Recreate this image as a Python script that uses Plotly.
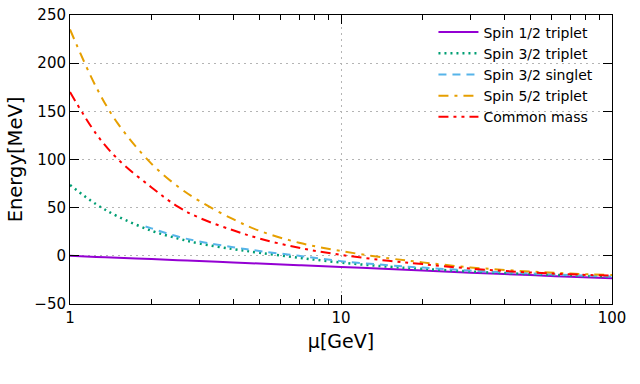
import plotly.graph_objects as go

# renormalisation scale mu [GeV]
mu = [1, 1.25, 1.5, 2, 2.5, 3, 4, 5, 7, 10, 15, 20, 30, 50, 70, 100]

spin12_triplet = [0, -1.1, -2.0, -3.4, -4.5, -5.4, -6.9, -8.0, -9.8, -11.6, -13.7, -15.2, -17.5, -20.0, -21.7, -23.2]
spin32_triplet = [73.5, 53.5, 41, 26, 18, 12.8, 7.0, 3.2, -2.0, -7.0, -11.3, -13.5, -16.3, -19.0, -20.4, -21.8]
spin52_triplet = [235, 175, 137.5, 95.5, 72, 57, 38, 26, 13.6, 5.0, -2.5, -6.8, -12.0, -16.3, -18.4, -20.0]
common_mass = [170, 126.5, 100.5, 71, 51, 39.5, 26.5, 18, 8.3, 1.0, -5.2, -8.6, -13.2, -17.3, -19.2, -20.6]

# the singlet curve only starts at about 1.9 GeV
mu_singlet = [1.9, 2, 2.5, 3, 4, 5, 7, 10, 15, 20, 30, 50, 70, 100]
spin32_singlet = [30.5, 28.5, 20, 14.8, 9.0, 5.0, 0.0, -5.5, -9.8, -12.2, -15.3, -18.3, -19.9, -21.4]

fig = go.Figure()
fig.add_trace(go.Scatter(x=mu, y=spin12_triplet, name="Spin 1/2 triplet", mode="lines",
                         line=dict(color="#9400D3", width=2, shape="spline")))
fig.add_trace(go.Scatter(x=mu, y=spin32_triplet, name="Spin 3/2 triplet", mode="lines",
                         line=dict(color="#009E73", width=2.5, dash="2px,4px", shape="spline")))
fig.add_trace(go.Scatter(x=mu_singlet, y=spin32_singlet, name="Spin 3/2 singlet", mode="lines",
                         line=dict(color="#56B4E9", width=2, dash="8px,6px", shape="spline")))
fig.add_trace(go.Scatter(x=mu, y=spin52_triplet, name="Spin 5/2 triplet", mode="lines",
                         line=dict(color="#E69F00", width=2, dash="10px,6px,3px,6px", shape="spline")))
fig.add_trace(go.Scatter(x=mu, y=common_mass, name="Common mass", mode="lines",
                         line=dict(color="#FF0000", width=2, dash="10px,5px,3px,5px,3px,5px", shape="spline")))

fig.update_xaxes(
    type="log", range=[0, 2], tickvals=[1, 10, 100], ticktext=["1", "10", "100"],
    ticks="inside", ticklen=9, tickcolor="black", showline=True, linecolor="black",
    linewidth=1, mirror="allticks", showgrid=True, gridcolor="#b4b4b4", griddash="2px,4px",
    minor=dict(ticks="inside", ticklen=5, tickcolor="black", dtick="D1", showgrid=False),
    title=dict(text="μ[GeV]", font=dict(size=19), standoff=8),
    zeroline=False, automargin=False,
)
fig.update_yaxes(
    range=[-50, 250], dtick=50, ticks="inside", ticklen=9, tickcolor="black",
    showline=True, linecolor="black", linewidth=1, mirror="allticks",
    showgrid=True, gridcolor="#b4b4b4", griddash="2px,4px", zeroline=False, automargin=False,
    title=dict(text="Energy[MeV]", font=dict(size=19.5), standoff=6),
)

fig.update_layout(
    width=640, height=384,
    margin=dict(l=70, r=28, t=15, b=80),
    paper_bgcolor="white", plot_bgcolor="white",
    font=dict(family="DejaVu Sans", size=15, color="black"),
    showlegend=True,
    legend=dict(x=0.975, y=0.995, xanchor="right", yanchor="top", bgcolor="rgba(255,255,255,0)",
                font=dict(size=14), tracegroupgap=0, itemwidth=40),
)

fig.write_html("out.html", config={"displayModeBar": False},
               post_script="document.body.style.margin='0px';")
